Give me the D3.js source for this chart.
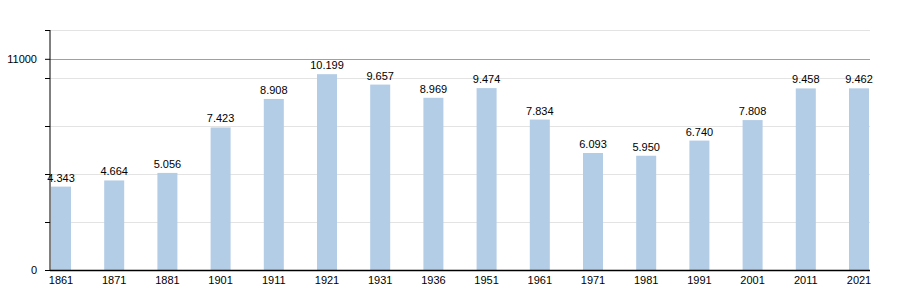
<!DOCTYPE html>
<html><head><meta charset="utf-8">
<script src="https://cdn.jsdelivr.net/npm/d3@7"></script>
<style>body{margin:0;background:#fff}svg{display:block}text{font-family:"Liberation Sans",Arial,sans-serif}</style>
</head><body><svg id="c" width="900" height="300"></svg>
<script>
const years = ["1861","1871","1881","1901","1911","1921","1931","1936","1951","1961","1971","1981","1991","2001","2011","2021"];
const population = [4343,4664,5056,7423,8908,10199,9657,8969,9474,7834,6093,5950,6740,7808,9458,9462];
const gridTicks = [2500,5000,7500,10000,12500];
const labeledTicks = [0,11000];

const svg = d3.select("#c");
const x0 = 50, x1 = 870;
const y = d3.scaleLinear().domain([0,12500]).range([270,30]);
const x = d3.scaleBand().domain(years).range([51,869]).paddingInner(0.624).paddingOuter(0);
const fmt = d3.formatLocale({decimal:",",thousands:".",grouping:[3],currency:["","€"]}).format(",d");

// grid
svg.append("g").selectAll("line").data(gridTicks).join("line")
  .attr("x1",x0).attr("x2",x1).attr("y1",d=>Math.round(y(d))+0.5).attr("y2",d=>Math.round(y(d))+0.5)
  .attr("stroke","#e3e3e3").attr("stroke-width",1);
svg.append("line").attr("x1",x0).attr("x2",x1)
  .attr("y1",Math.round(y(11000))+0.5).attr("y2",Math.round(y(11000))+0.5)
  .attr("stroke","#a0a0a0");

// bars
svg.append("g").selectAll("rect").data(years).join("rect")
  .attr("x",d=>x(d)).attr("width",x.bandwidth())
  .attr("y",(d,i)=>y(population[i])).attr("height",(d,i)=>y(0)-y(population[i]))
  .attr("fill","#b3cde6");

// value labels
svg.append("g").selectAll("text").data(years).join("text")
  .attr("x",d=>x(d)+x.bandwidth()/2).attr("y",(d,i)=>y(population[i])-5)
  .attr("text-anchor","middle").attr("font-size",11).attr("fill","#000")
  .text((d,i)=>fmt(population[i]));

// y axis
const yAxis = d3.axisLeft(y).tickValues(gridTicks.concat(labeledTicks)).tickSize(5)
  .tickFormat(d=>labeledTicks.includes(d)?String(d):"");
const gy = svg.append("g").attr("transform",`translate(${x0},0)`).call(yAxis);
gy.select(".domain").attr("d",`M-0.5,${y(0)}V${y(12500)}`).attr("stroke","#000").attr("transform","translate(0.5,0)");
gy.selectAll(".tick line").attr("stroke","#000");
gy.selectAll(".tick text").attr("font-size",11).attr("x",-13).attr("fill","#000").attr("font-family","Liberation Sans, Arial, sans-serif");

// x axis
const xAxis = d3.axisBottom(x).tickSize(0).tickPadding(6);
const gx = svg.append("g").attr("transform",`translate(0,${y(0)})`).call(xAxis);
gx.select(".domain").attr("d",`M${x0},0.5H${x1}`).attr("stroke","#000").attr("stroke-width",1.5);
gx.selectAll(".tick text").attr("font-size",11).attr("fill","#000").attr("font-family","Liberation Sans, Arial, sans-serif");
</script></body></html>
